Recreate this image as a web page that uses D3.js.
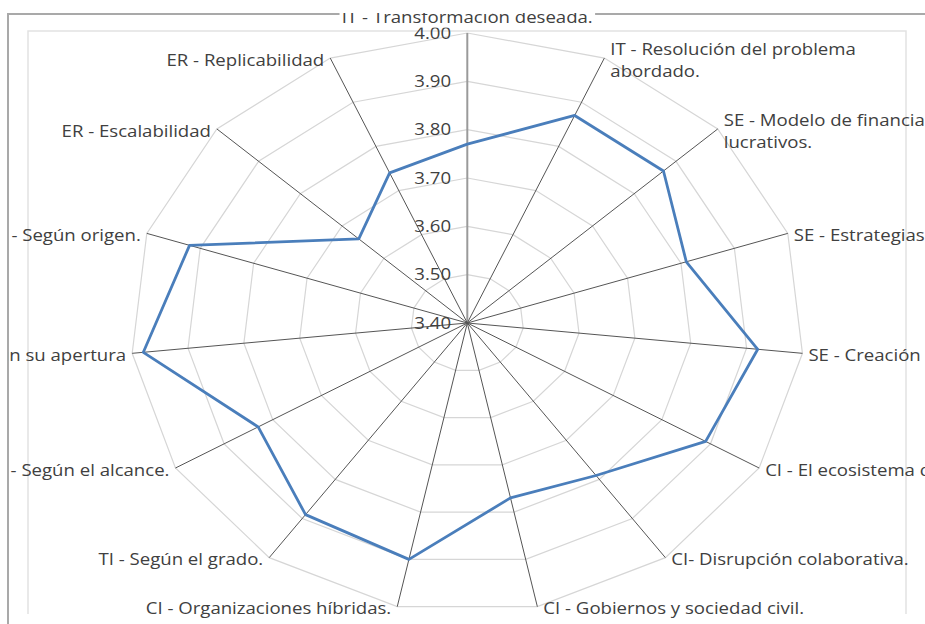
<!DOCTYPE html>
<html>
<head>
<meta charset="utf-8">
<script src="https://cdn.jsdelivr.net/npm/d3@7"></script>
<style>
  html, body { margin: 0; padding: 0; background: #ffffff; }
  svg { display: block; }
  text { font-family: "Open Sans", "Noto Sans", sans-serif; font-size: 16px; fill: #404040; }
</style>
</head>
<body>
<svg id="chart" width="925" height="624"></svg>
<script>
// Dimensiones evaluadas (una por eje del radar, en sentido horario desde arriba)
const categories = [
  "IT - Transformación deseada.",
  "IT - Resolución del problema\nabordado.",
  "SE - Modelo de financiación sin fines\nlucrativos.",
  "SE - Estrategias de sostenibilidad.",
  "SE - Creación de valor.",
  "CI - El ecosistema de innovación.",
  "CI- Disrupción colaborativa.",
  "CI - Gobiernos y sociedad civil.",
  "CI - Organizaciones híbridas.",
  "TI - Según el grado.",
  "TI - Según el alcance.",
  "TI - Según su apertura",
  "TI - Según origen.",
  "ER - Escalabilidad",
  "ER - Replicabilidad"
];

// Puntuación media de cada dimensión
const values = [3.77, 3.87, 3.87, 3.81, 3.92, 3.89, 3.79, 3.77, 3.90, 3.89, 3.83, 3.98, 3.92, 3.66, 3.74];

// Marcas del eje de valores
const tickValues = [3.40, 3.50, 3.60, 3.70, 3.80, 3.90, 4.00];

const W = 925, H = 624;
const cx = 467.3, cy = 323, R = 290, stretchX = 1.162;

const svg = d3.select("#chart");

// Marco exterior y borde del área de trazado
svg.append("path")
  .attr("d", "M8,624 V14 H925")
  .attr("fill", "none").attr("stroke", "#a9a9a9").attr("stroke-width", 2);
svg.append("path")
  .attr("d", "M28,614 V31 H906 V614")
  .attr("fill", "none").attr("stroke", "#e2e2e2").attr("stroke-width", 1.5);

svg.append("defs").append("clipPath").attr("id", "frameClip")
  .append("rect").attr("x", 8).attr("y", 13).attr("width", W - 8).attr("height", H - 13);

const clipped = svg.append("g").attr("clip-path", "url(#frameClip)");
const g = clipped.append("g")
  .attr("transform", `translate(${cx},${cy}) scale(${stretchX},1)`);

const n = categories.length;
const angle = d3.scaleLinear().domain([0, n]).range([0, 2 * Math.PI]);
const radius = d3.scaleLinear().domain([3.40, 4.00]).range([0, R]);

const ring = d3.lineRadial()
  .angle((d, i) => angle(i))
  .radius(d => radius(d))
  .curve(d3.curveLinearClosed);

// Polígonos de la cuadrícula
g.append("g").selectAll("path")
  .data(tickValues.slice(1))
  .join("path")
  .attr("d", t => ring(d3.range(n).map(() => t)))
  .attr("fill", "none")
  .attr("stroke", "#d6d6d6")
  .attr("stroke-width", 1.2)
  .attr("vector-effect", "non-scaling-stroke");

// Radios de cada categoría
const tip = i => {
  const a = angle(i), r = radius(tickValues[tickValues.length - 1]);
  return [r * Math.sin(a), -r * Math.cos(a)];
};
g.append("g").selectAll("line")
  .data(d3.range(n))
  .join("line")
  .attr("x1", 0).attr("y1", 0)
  .attr("x2", i => tip(i)[0]).attr("y2", i => tip(i)[1])
  .attr("stroke", i => i === 0 ? "#9a9a9a" : "#555555")
  .attr("stroke-width", i => i === 0 ? 2 : 1)
  .attr("vector-effect", "non-scaling-stroke");

// Serie de datos
g.append("path")
  .datum(values)
  .attr("d", ring)
  .attr("fill", "none")
  .attr("stroke", "#4a7ebb")
  .attr("stroke-width", 2.8)
  .attr("stroke-linejoin", "round")
  .attr("vector-effect", "non-scaling-stroke");

// Etiquetas del eje de valores
g.append("g").selectAll("text")
  .data(tickValues)
  .join("text")
  .attr("x", -14)
  .attr("y", t => -radius(t))
  .attr("dy", "0.36em")
  .attr("text-anchor", "end")
  .text(t => t.toFixed(2));

// Etiquetas de categoría
const gap = 6 / stretchX, lineH = 22;
const labels = g.append("g");
categories.forEach((label, i) => {
  const [ex, ey] = tip(i);
  const lines = label.split("\n");
  const t = labels.append("text");
  if (i === 0) {
    t.attr("text-anchor", "middle").attr("x", 0).attr("y", ey - 10);
    t.text(label);
    const bb = t.node().getBBox();
    labels.insert("rect", "text")
      .attr("x", bb.x - 2).attr("y", bb.y)
      .attr("width", bb.width + 4).attr("height", bb.height)
      .attr("fill", "#ffffff");
    return;
  }
  const side = Math.sin(angle(i)) > 0 ? 1 : -1;
  const x = ex + side * gap;
  const y0 = ey + 2 - (lines.length - 1) * lineH / 2;
  t.attr("text-anchor", side > 0 ? "start" : "end");
  lines.forEach((s, k) => {
    t.append("tspan")
      .attr("x", x)
      .attr("y", y0 + k * lineH)
      .attr("dy", "0.36em")
      .text(s);
  });
});
</script>
</body>
</html>
